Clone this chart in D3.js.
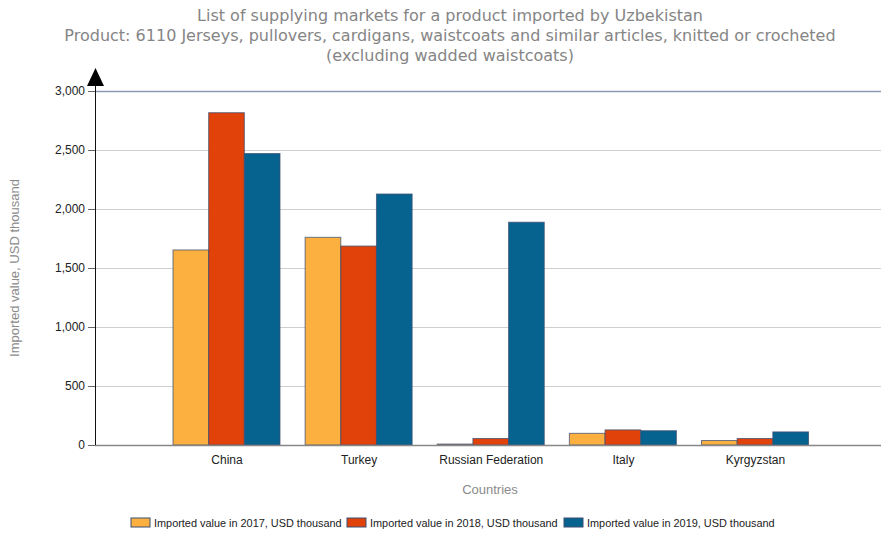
<!DOCTYPE html>
<html><head><meta charset="utf-8">
<script src="https://cdn.jsdelivr.net/npm/d3@7"></script>
<style>body{margin:0;background:#fff}svg{display:block}</style>
</head><body>
<svg id="c" width="881" height="534"></svg>
<script>
const countries = ["China","Turkey","Russian Federation","Italy","Kyrgyzstan"];
const seriesNames = ["Imported value in 2017, USD thousand","Imported value in 2018, USD thousand","Imported value in 2019, USD thousand"];
const values2017 = [1653, 1760, 8, 99, 38];
const values2018 = [2816, 1686, 55, 128, 55];
const values2019 = [2470, 2127, 1888, 121, 111];
const yTicks = [0,500,1000,1500,2000,2500,3000];
const colors = ["#fbb040","#e0420a","#06628f"];
const titleLines = ["List of supplying markets for a product imported by Uzbekistan",
 "Product: 6110 Jerseys, pullovers, cardigans, waistcoats and similar articles, knitted or crocheted",
 "(excluding wadded waistcoats)"];

const allSeries = [values2017, values2018, values2019];
const svg = d3.select("#c");
const mLeft = 95, mRight = 881, mTop = 91, mBottom = 445;

const y = d3.scaleLinear().domain([0,3000]).range([mBottom, mTop]);
const x = d3.scalePoint().domain(countries).range([226.5, 755]);
const groupW = 107;
const xs = d3.scaleBand().domain([0,1,2]).range([-groupW/2, groupW/2]);

// title
svg.append("g").selectAll("text").data(titleLines).join("text")
  .attr("x", 450).attr("y", (d,i)=>20.5 + i*20)
  .attr("text-anchor","middle").attr("font-family","DejaVu Sans, Verdana, sans-serif")
  .attr("font-size", 16).attr("textLength", null).attr("fill","#858585").text(d=>d);

// gridlines
svg.append("g").selectAll("line").data(yTicks.filter(t=>t>0)).join("line")
  .attr("x1", mLeft).attr("x2", mRight).attr("y1", d=>y(d)+0.5).attr("y2", d=>y(d)+0.5)
  .attr("stroke", d=> d===3000 ? "#8c9bb3" : "#cfcfcf").attr("stroke-width", d=>d===3000?1.5:1.2);

// bars
const groups = svg.append("g").selectAll("g").data(countries).join("g")
  .attr("transform", d=>`translate(${x(d)},0)`);
groups.selectAll("rect").data((d,i)=>allSeries.map((s,k)=>({k, v:s[i]}))).join("rect")
  .attr("x", d=>xs(d.k)).attr("width", xs.bandwidth())
  .attr("y", d=>y(d.v)).attr("height", d=>mBottom - y(d.v))
  .attr("fill", d=>colors[d.k]).attr("stroke","#3d4f72").attr("stroke-width",1).attr("stroke-opacity",0.75);

// baseline
svg.append("line").attr("x1",mLeft).attr("x2",mRight).attr("y1",mBottom+0.5).attr("y2",mBottom+0.5)
  .attr("stroke","#888").attr("stroke-width",1.5);

// y axis
const yAxis = d3.axisLeft(y).tickValues(yTicks).tickSize(7).tickPadding(3).tickFormat(d3.format(","));
const ya = svg.append("g").attr("transform",`translate(${mLeft},0)`).call(yAxis);
ya.select(".domain").remove();
ya.selectAll(".tick line").attr("stroke","#666");
ya.selectAll("text").attr("font-family","Liberation Sans, Arial, sans-serif").attr("font-size",12).attr("fill","#222");
svg.append("line").attr("x1",mLeft+0.5).attr("x2",mLeft+0.5).attr("y1",80).attr("y2",mBottom)
  .attr("stroke","#111").attr("stroke-width",1);
svg.append("path").attr("d",`M${mLeft+0.5},68 L${mLeft-8},86 L${mLeft+9},86 Z`).attr("fill","#000");

// x axis labels
const xAxis = d3.axisBottom(x).tickSize(0).tickPadding(10);
const xa = svg.append("g").attr("transform",`translate(0,${mBottom})`).call(xAxis);
xa.select(".domain").remove();
xa.selectAll("text").attr("font-family","Liberation Sans, Arial, sans-serif").attr("font-size",12).attr("fill","#222");

// axis titles
svg.append("text").attr("x",490).attr("y",494).attr("text-anchor","middle")
  .attr("font-family","Liberation Sans, Arial, sans-serif").attr("font-size",13).attr("fill","#8a8a8a").text("Countries");
svg.append("text").attr("transform","translate(19,268) rotate(-90)").attr("text-anchor","middle")
  .attr("font-family","Liberation Sans, Arial, sans-serif").attr("font-size",13).attr("fill","#8a8a8a").text("Imported value, USD thousand");

// legend
const legX = [131, 347, 564];
const leg = svg.append("g").selectAll("g").data(seriesNames).join("g")
  .attr("transform",(d,i)=>`translate(${legX[i]},518)`);
leg.append("rect").attr("x",0).attr("y",0).attr("width",19).attr("height",9)
  .attr("fill",(d,i)=>colors[i]).attr("stroke","#3d4f72").attr("stroke-width",1);
leg.append("text").attr("x",23).attr("y",8.5).attr("font-family","Liberation Sans, Arial, sans-serif")
  .attr("font-size",10.9).attr("fill","#222").text(d=>d);
</script>
</body></html>
